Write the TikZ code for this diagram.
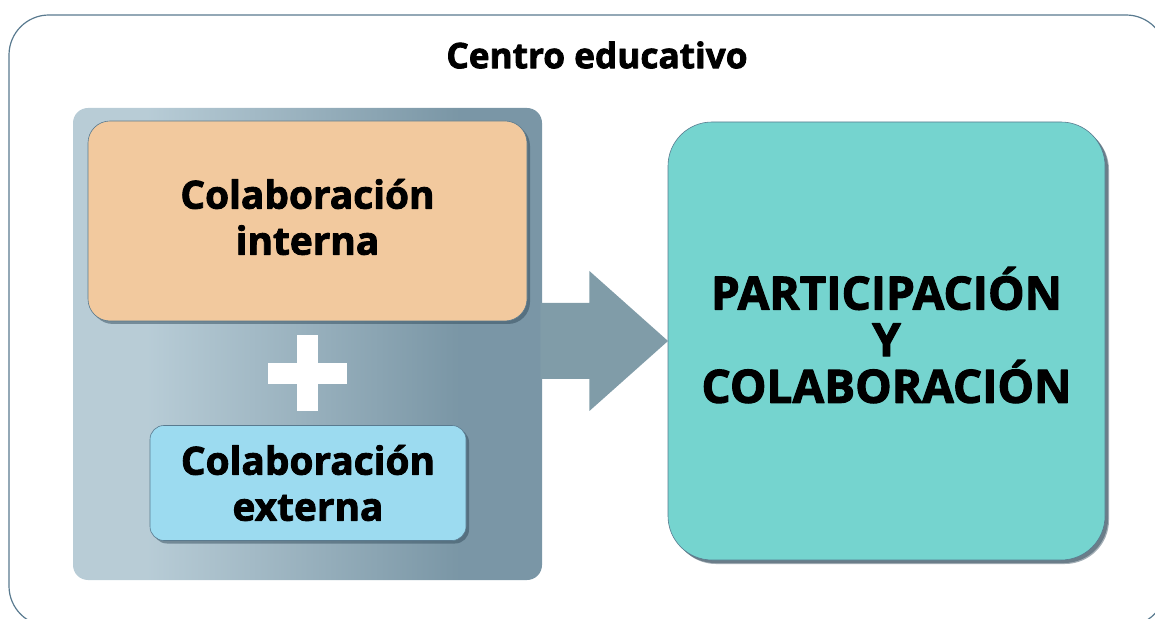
\documentclass[tikz,border=0pt]{standalone}
\usepackage{fontspec}
\setmainfont{Open Sans}[BoldFeatures={FakeBold=2.2}]
\usepackage{tikz}
\usetikzlibrary{shadows}
\usetikzlibrary{calc}
\definecolor{framegray}{rgb}{0.35,0.48,0.56}
\definecolor{panellight}{rgb}{0.72,0.80,0.84}
\definecolor{paneldark}{rgb}{0.48,0.59,0.65}
\definecolor{arrowgray}{rgb}{0.50,0.61,0.66}
\definecolor{orangebox}{rgb}{0.95,0.79,0.62}
\definecolor{bluebox}{rgb}{0.61,0.86,0.94}
\definecolor{tealbox}{rgb}{0.46,0.83,0.81}
\definecolor{shadowgray}{rgb}{0.20,0.30,0.36}
\pgfdeclarehorizontalshading{panelshade}{100bp}{color(0bp)=(panellight); color(33bp)=(panellight); color(66bp)=(paneldark); color(100bp)=(paneldark)}
\tikzset{
  colbox/.style={draw=framegray,line width=0.3pt,align=center,inner sep=0pt,
    font=\bfseries\fontsize{19.4}{23}\selectfont,
    drop shadow={shadow xshift=1.5pt,shadow yshift=-1.5pt,opacity=0.5,fill=shadowgray}},
  panelbox/.style={shading=panelshade,rounded corners=7.5pt,inner sep=0pt}
}
\begin{document}
\begin{tikzpicture}[line cap=round,line join=round,x=0.5pt,y=-0.5pt]
\useasboundingbox (0,0) rectangle (1155,619);
\clip (0,0) rectangle (1155,619);
\draw[color=framegray,line width=0.6pt,rounded corners=20pt] (9,15) rectangle (1166,626);
\node[font=\bfseries\fontsize{17.6}{20}\selectfont] (title) at (597,55) {Centro educativo};
\node[panelbox,minimum width=234.5pt,minimum height=236pt] (panel) at (307.5,344) {};
% flecha hacia el cuadro de la derecha
\coordinate (base) at (panel.east |- 0,341);
\fill[arrowgray] ($(base)+(-2,-38)$) -- ++(49,0) -- ++(0,-32) -- (668,341) -- ($(base)+(47,70)$) -- ++(0,-32) -- ($(base)+(-2,38)$) -- cycle;
\node[colbox,fill=orangebox,rounded corners=11pt,minimum width=219.5pt,minimum height=100pt] (interna) at (307.5,221) {};
\node[align=center,font=\bfseries\fontsize{19.4}{23}\selectfont] (internatext) at ($(interna.center)+(0,-4)$) {Colaboración\\interna};
\node[colbox,fill=bluebox,rounded corners=7pt,minimum width=158pt,minimum height=57.5pt] (externa) at (308,483) {Colaboración\\externa};
\coordinate (plus) at ($(interna.south)!0.5!(externa.north)$);
\fill[white] ($(plus)+(-10.5,-38)$) rectangle ($(plus)+(10.5,38)$);
\fill[white] ($(plus)+(-39.5,-10.5)$) rectangle ($(plus)+(39.5,10.5)$);
\node[colbox,fill=tealbox,rounded corners=22pt,minimum width=218.5pt,minimum height=219pt,
  drop shadow={shadow xshift=2pt,shadow yshift=-2pt,opacity=0.45,fill=shadowgray}] (partic) at (886.5,341) {};
\node[align=center,font=\bfseries\fontsize{23}{23.3}\selectfont] (partictext) at ($(partic.center)+(0,-6)$) {PARTICIPACIÓN\\Y\\COLABORACIÓN};
\end{tikzpicture}
\end{document}
